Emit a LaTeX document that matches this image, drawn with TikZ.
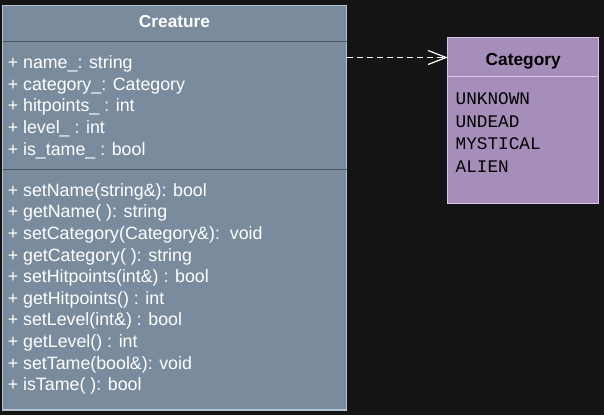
\documentclass[tikz,border=0pt]{standalone}
\usepackage{fontspec}
\setmainfont{Liberation Sans}
\setmonofont{Liberation Mono}
\usetikzlibrary{arrows.meta,calc}
\definecolor{BgInk}{HTML}{141414}
\definecolor{CSlate}{HTML}{7A8B9D}
\definecolor{CMist}{HTML}{B4C3D0}
\definecolor{CSteel}{HTML}{4D535A}
\definecolor{CLilac}{HTML}{A58EBA}
\definecolor{CPale}{HTML}{D9C5EE}
\tikzset{
  classbox/.style={draw, line width=1.3pt, anchor=north west, inner sep=0pt, outer sep=0pt},
  member/.style={anchor=base west, inner sep=0pt, font=\fontsize{17.8}{20}\selectfont},
  enumval/.style={anchor=base west, inner sep=0pt, font=\ttfamily\fontsize{17.7}{20}\selectfont, text=black},
  classtitle/.style={anchor=base, inner sep=0pt, font=\bfseries\fontsize{17.3}{20}\selectfont},
}

\begin{document}
\begin{tikzpicture}[x=1pt,y=-1pt]
        \fill[BgInk] (0,0) rectangle (604,415);
        \useasboundingbox (0,0) rectangle (604,415);
        \node[classbox, fill=CSlate, draw=CMist, minimum width=344pt, minimum height=404.5pt] (creature) at (2.5,5.5) {};
        \node[classbox, fill=CLilac, draw=CPale, minimum width=151pt, minimum height=165.6pt] (category) at (447.7,37.7) {};
        \draw[CSteel, line width=1.5pt] (creature.west |- 0,41.5) -- (creature.east |- 0,41.5);
        \draw[CSteel, line width=1.5pt] (creature.west |- 0,169.5) -- (creature.east |- 0,169.5);
        \draw[CPale, line width=1.5pt] (category.west |- 0,76.7) -- (category.east |- 0,76.7);

        \node[classtitle, text=white] (creaturetitle) at (174.5,27.3) {Creature};
        \node[classtitle, text=black] (categorytitle) at (523.2,65.3) {Category};

        \foreach \txt [count=\i from 0] in {{+ name\_: string},{+ category\_: Category},{+ hitpoints\_ : int},{+ level\_ : int},{+ is\_tame\_ : bool}}
        {
            \node[member, text=white] (attr\i) at (7.6,68.5+21.7*\i) {\txt};
        }
        \foreach \txt [count=\i from 0] in {{+ setName(string\&): bool},{+ getName( ): string},{+ setCategory(Category\&):\ \ void},{+ getCategory( ): string},{+ setHitpoints(int\&) : bool},{+ getHitpoints() : int},{+ setLevel(int\&) : bool},{+ getLevel() : int},{+ setTame(bool\&): void},{+ isTame( ): bool}}
        {
            \node[member, text=white] (meth\i) at (7.6,196.3+21.6*\i) {\txt};
        }
        \foreach \txt [count=\i from 0] in {UNKNOWN,UNDEAD,MYSTICAL,ALIEN}
        {
            \node[enumval] (val\i) at (455.5,104.3+22.8*\i) {\txt};
        }

        \draw[white, line width=1.2pt, dash pattern=on 6pt off 4pt, -{Straight Barb[length=18pt,width=14pt]}] (creature.east |- 0,57.5) -- (category.west |- 0,57.5);
\end{tikzpicture}
\end{document}
